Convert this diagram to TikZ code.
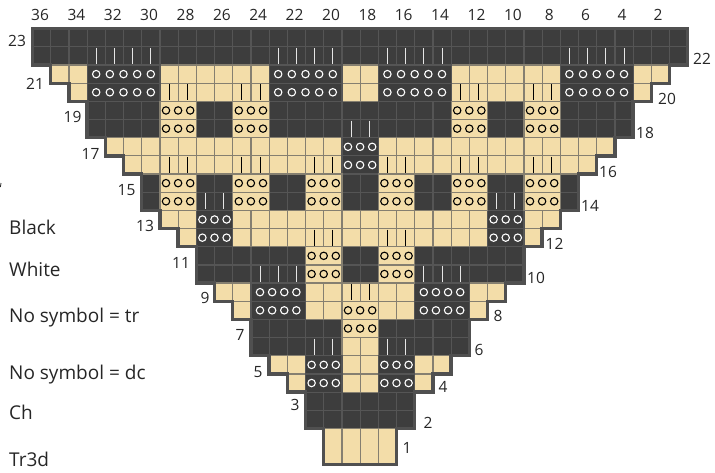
\documentclass[tikz,border=0pt]{standalone}
\usepackage{fontspec}
\setmainfont{Open Sans}
\definecolor{dk}{HTML}{3D3D3D}
\definecolor{dkline}{HTML}{555555}
\definecolor{edge}{HTML}{505050}
\definecolor{cream}{HTML}{F3DDA9}
\definecolor{crline}{HTML}{857F70}
\definecolor{txt}{HTML}{262626}
\newcommand{\CX}[1]{(32.5+18.2*((#1)-1))}
\newcommand{\RY}[1]{(28.7+18.17*(23-(#1)))}
\tikzset{
  darkcell/.style={fill=dk,draw=dkline,line width=1.2pt},
  creamcell/.style={fill=cream,draw=crline,line width=1.2pt},
  outlinebar/.style={draw=edge,line width=3.4pt,line join=miter},
  wbar/.style={draw=white!90!black,line width=1pt},
  bbar/.style={draw=black,line width=1pt},
  wring/.style={draw=white,line width=1.1pt,fill=none},
  bring/.style={draw=black,line width=1.1pt,fill=none},
  numlabel/.style={text=txt,font=\fontsize{15.5}{15.5}\selectfont,inner sep=0pt,anchor=center},
  keylabel/.style={text=txt,font=\fontsize{19}{19}\selectfont,inner sep=0pt,anchor=base west},
}
% row, first col, last col, style
\newcommand{\rowrect}[4]{\path[#4] ({\CX{#2}},{\RY{#1}}) rectangle ({\CX{#3+1}},{\RY{#1-1}});}
\begin{document}
\begin{tikzpicture}[x=1pt,y=-1pt]
\useasboundingbox (0,0) rectangle (715,472);
% plain dark cells: row / first col / last col
\foreach \n/\a/\b in {23/1/36,22/1/36,
 19/4/7,19/10/11,19/14/23,19/26/27,19/30/33,
 18/4/7,18/10/11,18/14/23,18/26/27,18/30/33,
 15/7/7,15/10/11,15/14/15,15/18/19,15/22/23,15/26/27,15/30/30,
 14/7/7,14/10/11,14/14/15,14/18/19,14/22/23,14/26/27,14/30/30,
 11/10/15,11/18/19,11/22/27,10/10/15,10/18/19,10/22/27,
 7/13/17,7/20/24,6/13/17,6/20/24,
 3/16/21,2/16/21}
{\foreach \c in {\a,...,\b}{\rowrect{\n}{\c}{\c}{darkcell}}}
% plain cream cells
\foreach \n/\a/\b in {
 21/2/3,21/8/13,21/18/19,21/24/29,21/34/35,
 20/3/3,20/8/13,20/18/19,20/24/29,20/34/34,
 17/5/17,17/20/32,16/6/17,16/20/31,
 13/8/9,13/12/25,13/28/29,12/9/9,12/12/25,12/28/28,
 9/11/12,9/16/21,9/25/26,8/12/12,8/16/17,8/20/21,8/25/25,
 6/18/19,5/14/15,5/18/19,5/22/23,4/15/15,4/18/19,4/22/22}
{\foreach \c in {\a,...,\b}{\rowrect{\n}{\c}{\c}{creamcell}}}
% foundation row
\foreach \c in {17,...,20}{\path[creamcell] ({\CX{\c}},{\RY{1}}) rectangle ({\CX{\c+1}},{\RY{-1}});}
% merged dark blocks with white rings
\foreach \n/\a/\b/\k/\m in {
 21/4/7/5/9.1,21/14/17/5/9.1,21/20/23/5/9.1,21/30/33/5/9.1,
 20/4/7/5/9.1,20/14/17/5/9.1,20/20/23/5/9.1,20/30/33/5/9.1,
 17/18/19/3/6.1,16/18/19/3/6.1,
 13/10/11/3/6.1,13/26/27/3/6.1,12/10/11/3/6.1,12/26/27/3/6.1,
 9/13/15/4/9.1,9/22/24/4/9.1,8/13/15/4/9.1,8/22/24/4/9.1,
 5/16/17/3/6.1,5/20/21/3/6.1,4/16/17/3/6.1,4/20/21/3/6.1}
{\rowrect{\n}{\a}{\b}{darkcell}
 \pgfmathsetmacro{\xa}{\CX{\a}+\m}
 \pgfmathsetmacro{\xb}{\CX{\b+1}-\m}
 \pgfmathsetmacro{\yy}{\RY{\n}+9.08}
 \pgfmathtruncatemacro{\kk}{\k-1}
 \foreach \i in {0,...,\kk}{\pgfmathsetmacro{\xx}{\xa+(\xb-\xa)*\i/\kk}\path[wring] (\xx,\yy) circle (3.7);}}
% merged cream blocks with black rings
\foreach \n/\a in {19/8,19/12,19/24,19/28,18/8,18/12,18/24,18/28,
 15/8,15/12,15/16,15/20,15/24,15/28,14/8,14/12,14/16,14/20,14/24,14/28,
 11/16,11/20,10/16,10/20,8/18,7/18}
{\rowrect{\n}{\a}{\a+1}{creamcell}
 \pgfmathsetmacro{\yy}{\RY{\n}+9.08}
 \foreach \i in {0,1,2}{\pgfmathsetmacro{\xx}{\CX{\a}+6.1+12.1*\i}\path[bring] (\xx,\yy) circle (3.7);}}
% white stitch bars
\foreach \n/\c in {22/4,22/5,22/6,22/7,22/14,22/15,22/16,22/17,22/20,22/21,22/22,22/23,22/30,22/31,22/32,22/33,
 18/18,18/19,14/10,14/11,14/26,14/27,10/13,10/14,10/15,10/22,10/23,10/24,6/16,6/17,6/20,6/21}
{\path[wbar] ({\CX{\c}+9.1},{\RY{\n}+1}) -- ({\CX{\c}+9.1},{\RY{\n}+17.2});}
% black stitch bars
\foreach \n/\c in {20/8,20/9,20/12,20/13,20/24,20/25,20/28,20/29,
 16/8,16/9,16/12,16/13,16/16,16/17,16/20,16/21,16/24,16/25,16/28,16/29,
 12/16,12/17,12/20,12/21,9/18,9/19}
{\path[bbar] ({\CX{\c}+9.1},{\RY{\n}+1}) -- ({\CX{\c}+9.1},{\RY{\n}+17.2});}
% staircase outline of the triangle
\path[outlinebar] ({\CX{1}},{\RY{23}})
 \foreach \c/\n in {37/23,37/21,36/21,36/20,35/20,35/19,34/19,34/17,33/17,33/16,32/16,32/15,31/15,31/13,30/13,30/12,29/12,29/11,28/11,28/9,27/9,27/8,26/8,26/7,25/7,25/5,24/5,24/4,23/4,23/3,22/3,22/1,21/1,21/-1,17/-1,17/1,16/1,16/3,15/3,15/4,14/4,14/5,13/5,13/7,12/7,12/8,11/8,11/9,10/9,10/11,9/11,9/12,8/12,8/13,7/13,7/15,6/15,6/16,5/16,5/17,4/17,4/19,3/19,3/20,2/20,2/21,1/21}
 { -- ({\CX{\c}},{\RY{\n}}) } -- cycle;
% column numbers
\foreach \t/\x in {36/40,34/76.4,32/112.8,30/149.1,28/185.5,26/221.9,24/258.2,22/294.6,20/331,18/367.4,16/403.7,14/440.1,12/476.5,10/512.9,8/549.2,6/585.6,4/622,2/658}
  {\node[numlabel] (col\t) at (\x,14.5) {\t};}
% row numbers
\node[numlabel] (r23) at (17,41) {23};
\node[numlabel] (r22) at (702,59) {22};
\node[numlabel] (r21) at (35,84) {21};
\node[numlabel] (r20) at (667,99) {20};
\node[numlabel] (r19) at (72.5,117) {19};
\node[numlabel] (r18) at (645,132.5) {18};
\node[numlabel] (r17) at (90.5,153.5) {17};
\node[numlabel] (r16) at (608,172) {16};
\node[numlabel] (r15) at (126.5,190) {15};
\node[numlabel] (r14) at (590,205.5) {14};
\node[numlabel] (r13) at (145,226) {13};
\node[numlabel] (r12) at (554.5,244) {12};
\node[numlabel] (r11) at (181,263) {11};
\node[numlabel] (r10) at (536,278) {10};
\node[numlabel] (r9) at (205,298) {9};
\node[numlabel] (r8) at (498,316) {8};
\node[numlabel] (r7) at (240,335) {7};
\node[numlabel] (r6) at (479,350) {6};
\node[numlabel] (r5) at (258,372) {5};
\node[numlabel] (r4) at (443,387) {4};
\node[numlabel] (r3) at (295,405) {3};
\node[numlabel] (r2) at (428,423) {2};
\node[numlabel] (r1) at (407,448) {1};
% key
\node[keylabel] (kblack) at (9,234) {Black};
\node[keylabel] (kwhite) at (9,276) {White};
\node[keylabel] (ktr) at (9,322) {No symbol = tr};
\node[keylabel] (kdc) at (9,379) {No symbol = dc};
\node[keylabel] (kch) at (9,419) {Ch};
\node[keylabel] (ktr3) at (9,466) {Tr3d};
\path[draw=txt,line width=0.8pt] (1,183) -- (0.4,187);
\end{tikzpicture}
\end{document}
